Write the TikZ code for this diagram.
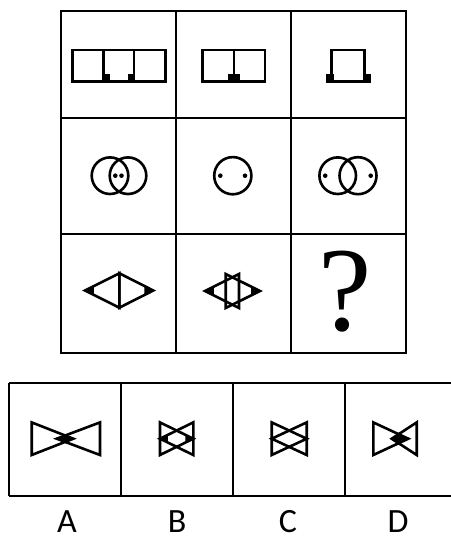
\documentclass[tikz,border=0pt]{standalone}
\usepackage{fontspec}
\newfontfamily\labfont{Carlito}
\newfontfamily\qfont{Liberation Serif}
\newcommand\TriShape[5]{% basex, tipx, cy, halfh, fillfrac
  \draw[fig] (#1,#3-#4) -- (#2,#3) -- (#1,#3+#4) -- cycle;
  \fill ({#2},{#3}) -- ({#2+(#1-#2)*#5},{#3-#4*#5}) -- ({#2+(#1-#2)*#5},{#3+#4*#5}) -- cycle;
}
\begin{document}
\begin{tikzpicture}[x=1pt,y=-1pt,
  grid/.style={line width=2.6pt, line join=miter},
  fig/.style={line width=2.6pt, line join=miter},
  lab/.style={font=\labfont\fontsize{34}{34}\selectfont, anchor=base, inner sep=0pt}]
\useasboundingbox (0,0) rectangle (450,537);
\fill[white] (0,0) rectangle (450,537);
% main grid
\draw[grid] (61,11) rectangle (406,353);
\draw[grid] (176,11) -- (176,353) (291,11) -- (291,353);
\draw[grid] (61,118) -- (406,118) (61,234) -- (406,234);
% row 1
\draw[fig] (72.7,50) rectangle (165.3,81.5);
\draw[fig] (103.5,50) -- (103.5,81.5) (134,50) -- (134,81.5);
\fill (102.3,74.3) rectangle (109.5,82.8);
\fill (128.1,74.3) rectangle (135.3,82.8);
\draw[fig] (202.7,50) rectangle (265,81.5);
\draw[fig] (234,50) -- (234,81.5);
\fill (228.1,74.3) rectangle (240.2,82.8);
\draw[fig] (326.7,81.5) -- (331.7,81.5) -- (331.7,50) -- (364.3,50) -- (364.3,81.5) -- (370,81.5);
\draw[fig] (331.7,81.5) -- (364.3,81.5);
\fill (326,74.3) rectangle (333.5,82.8);
\fill (362.8,74.3) rectangle (370.5,82.8);
% row 2
\draw[fig] (110,175.7) circle (18.3) (128,175.7) circle (18.3);
\fill (115.3,175.7) circle (2.3) (121.5,175.7) circle (2.3);
\draw[fig] (232.8,175.7) circle (18.6);
\fill (220.3,175.7) circle (2.3) (245,175.7) circle (2.3);
\draw[fig] (337.7,175.7) circle (18.3) (358,175.7) circle (18.5);
\fill (325.2,175.7) circle (2.3) (370.7,175.7) circle (2.3);
% row 3
\TriShape{119.3}{85}{290.5}{17.2}{0.26}
\TriShape{119.3}{153.3}{290.5}{17.2}{0.26}
\TriShape{239}{205}{291}{17}{0.26}
\TriShape{225.7}{260}{291}{17}{0.26}
\node[font=\qfont\fontsize{120}{120}\selectfont, anchor=base, inner sep=0pt] (q) at (345,330) {?};
% options
\draw[grid] (9,383) -- (458,383) (9,496) -- (458,496) (9,383) -- (9,496);
\draw[grid] (121,383) -- (121,496) (233,383) -- (233,496) (345,383) -- (345,496);
\TriShape{31.7}{73.3}{438.7}{16.3}{0.24}
\TriShape{100}{56.7}{438.7}{16.3}{0.24}
\TriShape{160}{193.3}{438.7}{16.3}{0.24}
\TriShape{193.3}{160}{438.7}{16.3}{0.24}
\draw[fig] (271.7,422.4) -- (306.7,438.7) -- (271.7,455) -- cycle;
\draw[fig] (306.7,422.4) -- (271.7,438.7) -- (306.7,455) -- cycle;
\TriShape{373.3}{408.3}{438.7}{16.3}{0.3}
\TriShape{416.7}{391.7}{438.7}{16.3}{0.3}
\node[lab] (la) at (67,532) {A};
\node[lab] (lb) at (177,532) {B};
\node[lab] (lc) at (288,532) {C};
\node[lab] (ld) at (398,532) {D};
\end{tikzpicture}
\end{document}
